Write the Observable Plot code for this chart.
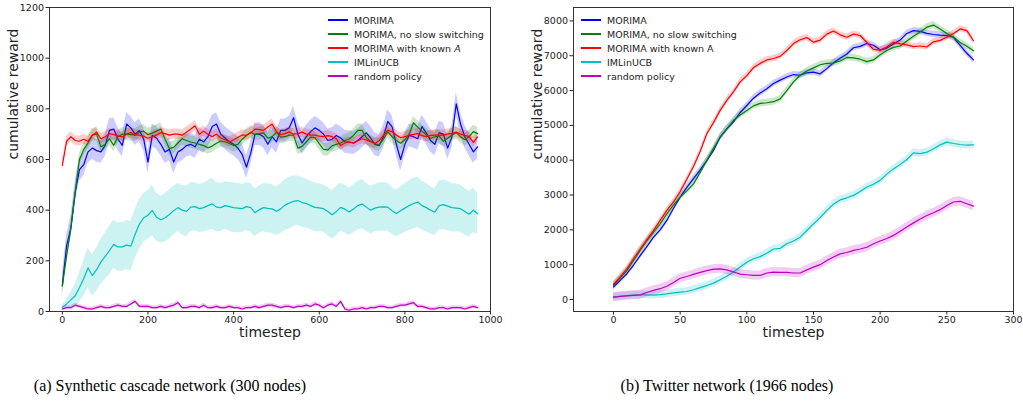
<!DOCTYPE html>
<html><head><meta charset="utf-8">
<script src="https://cdn.jsdelivr.net/npm/d3@7"></script>
<script src="https://cdn.jsdelivr.net/npm/@observablehq/plot@0.6"></script>
<style>
body{margin:0;background:#fff;}
#wrap{position:relative;width:1023px;height:402px;font-family:"DejaVu Sans",sans-serif;overflow:hidden;}
.panel{position:absolute;top:0;}
.legend{position:absolute;top:13px;font-size:9.5px;color:#222;}
.legend .row{display:flex;align-items:center;height:14px;white-space:nowrap;}
.legend .sw{display:inline-block;width:20px;height:2px;margin-right:6px;flex:none;}
.caption{position:absolute;font-family:"Liberation Serif","Times New Roman",serif;font-size:16px;top:377px;white-space:nowrap;transform:translateX(-50%);color:#000;}
</style></head>
<body>
<div id="wrap"></div>
<script>
// ---------- shared ----------
const seriesNames = ["MORIMA", "MORIMA, no slow switching", "MORIMA with known A", "IMLinUCB", "random policy"];
const seriesColors = ["#0000ff", "#008000", "#ff0000", "#00bfbf", "#bf00bf"];

// ---------- (a) synthetic cascade network: timestep 0..970, every 10 ----------
const leftStep = 10;
const leftBlue = [
 103,260,330,470,560,580,630,645,635,630,
 656,715,720,680,656,740,725,700,715,680,
 590,695,685,660,630,640,590,630,640,655,
 660,650,680,670,690,730,740,700,685,670,
 660,645,620,570,625,700,700,690,660,690,
 670,715,715,725,765,700,665,690,710,725,
 715,700,675,680,695,685,670,668,665,675,
 690,705,685,660,655,690,750,730,660,600,
 660,695,690,682,730,705,675,660,705,700,
 645,690,820,740,690,660,630,650];
const leftGreen = [
 100,220,330,470,600,640,665,696,700,650,
 660,682,656,690,700,700,698,696,708,712,
 698,704,712,720,680,643,648,665,682,675,
 669,665,660,655,646,653,664,673,670,663,
 655,660,680,695,708,698,702,705,684,690,
 707,688,690,696,696,645,652,670,688,686,
 663,640,638,654,660,665,675,681,695,715,
 715,686,672,662,658,680,709,690,675,664,
 678,700,745,728,712,698,684,690,692,672,
 684,697,706,690,678,690,710,702];
const leftRed = [
 577,672,690,675,672,680,672,696,708,682,
 690,702,698,693,689,700,706,697,696,692,
 684,690,697,706,702,696,700,700,696,708,
 720,733,700,712,700,690,700,685,678,669,
 678,688,696,696,705,720,718,715,728,740,
 710,698,702,709,700,702,708,700,696,696,
 692,690,694,690,682,655,665,670,664,674,
 682,677,670,663,675,695,715,710,697,686,
 690,696,699,702,694,690,695,696,696,696,
 700,703,708,700,695,690,668,689];
const leftCyan = [
 17,30,46,62,95,130,172,142,165,195,
 218,240,265,255,255,262,258,305,345,370,
 380,399,372,362,370,383,398,410,400,395,
 412,414,406,410,418,425,412,410,418,414,
 410,408,406,414,410,390,402,410,407,405,
 396,405,420,428,435,438,430,426,418,411,
 409,406,395,382,395,411,404,393,405,418,
 424,412,400,408,412,413,412,398,387,398,
 408,418,426,432,418,410,400,392,418,422,
 416,410,408,406,395,384,400,386];
const leftMagenta = [
 10,15,15,25,20,15,10,10,15,20,
 15,15,20,25,20,20,30,40,20,20,
 20,15,15,20,15,20,25,35,15,15,
 20,20,15,25,15,15,20,15,15,20,
 15,15,10,15,15,20,15,20,25,25,
 20,15,20,20,15,20,20,25,20,30,
 25,15,25,30,20,40,10,5,10,10,
 15,10,15,15,20,20,15,15,20,25,
 25,30,35,20,20,15,10,10,15,15,
 10,15,15,15,10,15,20,15];
// half-width of the shaded band for each series (cyan varies over time)
const leftSpread = [45, 25, 20, null, 8];
const leftCyanSpread = [
 8,18,30,45,58,68,78,82,85,88,
 92,95,95,95,96,96,98,98,97,96,
 96,100,95,92,95,98,96,95,97,100,
 96,95,94,96,98,100,97,95,93,96,
 98,97,95,94,96,95,93,95,97,96,
 95,98,100,102,100,98,97,96,95,96,
 94,93,95,96,97,95,94,93,95,96,
 97,95,94,93,95,96,94,93,92,94,
 96,98,100,98,96,95,94,93,96,98,
 97,95,94,93,92,90,88,80];
const leftXTicks = [0, 200, 400, 600, 800, 1000];
const leftYTicks = [0, 200, 400, 600, 800, 1000, 1200];

// ---------- (b) Twitter network: timestep 0..270, every 5 ----------
const rightStep = 5;
const rightBlue = [
 360,550,740,990,1260,1520,1790,2000,2270,2620,
 2940,3220,3470,3720,3990,4280,4660,4900,5100,5370,
 5570,5780,5930,6050,6200,6300,6390,6460,6440,6510,
 6530,6480,6630,6800,6930,7050,7230,7270,7350,7300,
 7170,7220,7340,7450,7640,7720,7700,7640,7610,7590,
 7580,7530,7300,7070,6880];
const rightGreen = [
 400,620,830,1120,1410,1680,1930,2170,2460,2720,
 2940,3120,3320,3650,3990,4340,4660,4900,5140,5300,
 5430,5560,5630,5650,5680,5760,6000,6250,6440,6560,
 6650,6740,6780,6790,6850,6950,6940,6900,6830,6880,
 7030,7150,7240,7280,7420,7560,7680,7820,7880,7770,
 7640,7530,7380,7270,7140];
const rightRed = [
 430,650,880,1170,1450,1720,1980,2270,2560,2800,
 3100,3450,3820,4250,4760,5080,5430,5720,5960,6250,
 6430,6660,6780,6880,6920,6980,7150,7350,7460,7520,
 7390,7450,7620,7710,7600,7530,7620,7580,7380,7180,
 7160,7260,7390,7340,7310,7260,7280,7250,7400,7440,
 7530,7640,7770,7720,7430];
const rightCyan = [
 67,90,110,125,134,130,125,140,160,190,
 210,230,280,340,400,470,565,670,790,930,
 1070,1170,1230,1330,1450,1470,1600,1680,1790,1980,
 2170,2350,2560,2740,2860,2920,2990,3100,3230,3310,
 3420,3600,3750,3880,4020,4210,4190,4230,4330,4440,
 4520,4480,4450,4430,4440];
const rightMagenta = [
 67,90,105,120,134,200,260,310,380,490,
 610,660,720,780,830,870,880,850,790,730,
 710,690,690,760,785,780,780,760,760,850,
 930,1000,1120,1220,1310,1350,1410,1450,1500,1600,
 1680,1750,1840,1960,2080,2200,2310,2410,2490,2580,
 2700,2800,2820,2750,2680];
const rightSpread = [90, 100, 90, 110, 130];
const rightXTicks = [0, 50, 100, 150, 200, 250, 300];
const rightYTicks = [0, 1000, 2000, 3000, 4000, 5000, 6000, 7000, 8000];

// ---------- build tables ----------
function buildRows(valuesList, spreads, step, spreadArrays) {
  const rows = [];
  valuesList.forEach((vals, k) => {
    vals.forEach((v, i) => {
      const s = spreadArrays && spreadArrays[k] ? spreadArrays[k][i] : spreads[k];
      rows.push({s: seriesNames[k], t: i * step, v, lo: v - s, hi: v + s});
    });
  });
  return rows;
}
const leftRows = buildRows([leftBlue, leftGreen, leftRed, leftCyan, leftMagenta], leftSpread, leftStep,
  [null, null, null, leftCyanSpread, null]);
const rightRows = buildRows([rightBlue, rightGreen, rightRed, rightCyan, rightMagenta], rightSpread, rightStep, null);

const fmt = d3.format("d");
function panel({rows, width, marginLeft, marginRight, xDomain, yDomain, xTicks, yTicks}) {
  const marks = [];
  seriesNames.forEach(name => {
    const d = rows.filter(r => r.s === name);
    marks.push(Plot.areaY(d, {x: "t", y1: "lo", y2: "hi", fill: "s", fillOpacity: 0.2, curve: "linear"}));
    marks.push(Plot.lineY(d, {x: "t", y: "v", stroke: "s", strokeWidth: 1.2}));
  });
  marks.push(Plot.frame({stroke: "#333", strokeWidth: 1}));
  marks.push(Plot.axisX({ticks: xTicks, tickSize: 3.5, tickPadding: 1, tickFormat: fmt, label: null}));
  marks.push(Plot.axisY({ticks: yTicks, tickSize: 3.5, tickPadding: 2, tickFormat: fmt, label: null}));
  marks.push(Plot.text(["timestep"], {frameAnchor: "bottom", dy: 21, fontSize: 14, lineAnchor: "middle", fill: "#222"}));
  marks.push(Plot.text(["cumulative reward"], {frameAnchor: "left", dx: -36, rotate: -90, fontSize: 14, lineAnchor: "middle", fill: "#222"}));
  return Plot.plot({
    width, height: 340, marginLeft, marginRight, marginTop: 7, marginBottom: 29,
    style: {fontFamily: "DejaVu Sans", fontSize: "9.5px", color: "#222", background: "transparent", overflow: "visible"},
    x: {domain: xDomain},
    y: {domain: yDomain},
    color: {domain: seriesNames, range: seriesColors},
    marks
  });
}

const wrap = document.getElementById("wrap");
const left = panel({rows: leftRows, width: 510, marginLeft: 49, marginRight: 20,
  xDomain: [-30, 1000], yDomain: [0, 1200], xTicks: leftXTicks, yTicks: leftYTicks});
left.classList.add("panel"); left.style.left = "0px";
wrap.appendChild(left);
const right = panel({rows: rightRows, width: 513, marginLeft: 63, marginRight: 10,
  xDomain: [-30, 300], yDomain: [-345, 8385], xTicks: rightXTicks, yTicks: rightYTicks});
right.classList.add("panel"); right.style.left = "510px";
wrap.appendChild(right);

function legend(x, italicA) {
  const div = document.createElement("div");
  div.className = "legend";
  div.style.left = x + "px";
  seriesNames.forEach((name, k) => {
    const row = document.createElement("div");
    row.className = "row";
    const sw = document.createElement("span");
    sw.className = "sw"; sw.style.background = seriesColors[k];
    const lab = document.createElement("span");
    if (italicA && name.endsWith(" A")) {
      lab.innerHTML = name.slice(0, -1) + "<i>A</i>";
    } else lab.textContent = name;
    row.appendChild(sw); row.appendChild(lab);
    div.appendChild(row);
  });
  wrap.appendChild(div);
}
legend(328, true);
legend(581, false);

const captions = ["(a) Synthetic cascade network (300 nodes)", "(b) Twitter network (1966 nodes)"];
[170, 727].forEach((cx, i) => {
  const c = document.createElement("div");
  c.className = "caption"; c.style.left = cx + "px"; c.textContent = captions[i];
  wrap.appendChild(c);
});
</script>
</body></html>
